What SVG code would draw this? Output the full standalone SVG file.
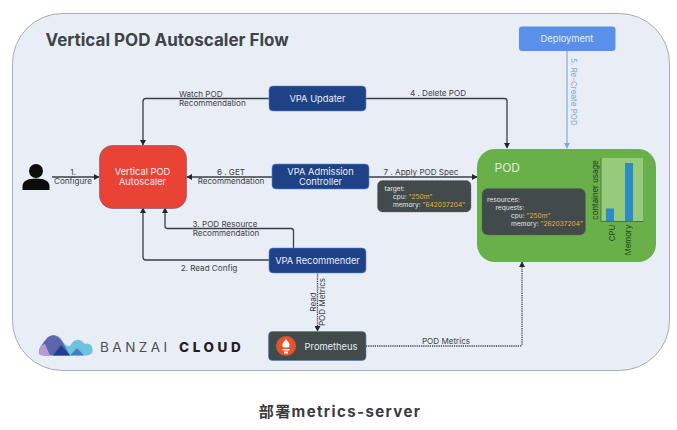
<svg xmlns="http://www.w3.org/2000/svg" width="677" height="430" viewBox="0 0 677 430">
<defs>
<style>
text{font-family:"Inter","Open Sans","Noto Sans CJK SC",sans-serif}
.n{font-size:9.3px;fill:#e8edf6;text-anchor:middle}
.l{font-size:8.1px;fill:#3c4144;text-anchor:middle}
.s{text-anchor:start}
.c{fill:none;stroke:#3a3f44;stroke-width:1.3}
.d{stroke-dasharray:1.2 1}
.k{font-size:6.6px;fill:#e6e8e8}
.y{fill:#e5b52a}
.box{fill:#1f4286;stroke:#5b8bd0;stroke-width:.6}
.dark{fill:#434a4c;stroke:#5d6365;stroke-width:.6;stroke-dasharray:1.5 1}
.ax{font-size:7.8px;fill:#21401f;text-anchor:middle}
</style>
<marker id="a" markerWidth="6" markerHeight="6" refX="5" refY="3" orient="auto" markerUnits="userSpaceOnUse"><path d="M0 0L5.500 3L0 6Z" fill="#23272b"/></marker>
<marker id="b" markerWidth="6" markerHeight="6" refX="5" refY="3" orient="auto" markerUnits="userSpaceOnUse"><path d="M0 0L5.500 3L0 6Z" fill="#7fa6d8"/></marker>
</defs>
<rect width="677" height="430" fill="#fff"/>
<rect x="12.500" y="13.500" width="657" height="357" rx="50" fill="#e9eef6" stroke="#a9abad"/>
<text x="45.500" y="46" font-size="17" font-weight="700" fill="#3f4448">Vertical POD Autoscaler Flow</text>

<g id="connectors">
<path class="c" marker-end="url(#a)" d="M269 98.500H146Q143 98.500 143 101.500V145"/>
<path class="c" marker-end="url(#a)" d="M366 98.500H504.500Q507 98.500 507 101V148"/>
<path class="c" marker-end="url(#a)" d="M272 177H187"/>
<path class="c" marker-end="url(#a)" d="M369 177H477"/>
<path class="c" marker-end="url(#a)" d="M52 177H99"/>
<path class="c" marker-end="url(#a)" d="M269 260H146Q143 260 143 257V208"/>
<path class="c" marker-end="url(#a)" d="M293.500 248V231Q293.500 228.500 291 228.500H167.500Q165 228.500 165 226V208"/>
<path class="c d" marker-end="url(#a)" d="M317.500 272V331"/>
<path class="c d" marker-end="url(#a)" d="M366 346H520Q522 346 522 344V262"/>
<path fill="none" stroke="#8ab0de" stroke-width="1.300" marker-end="url(#b)" d="M567 51V148"/>
<text class="l" x="73" y="175">1.</text>
<text class="l" x="73" y="183.500">Configure</text>
<text class="l s" x="179" y="97">Watch POD</text>
<text class="l s" x="179" y="105.500">Recommendation</text>
<text class="l" x="231" y="175">6 . GET</text>
<text class="l" x="231" y="183.500">Recommendation</text>
<text class="l" x="438" y="96">4 . Delete POD</text>
<text class="l" x="421" y="174.500">7 . Apply POD Spec</text>
<text class="l" x="225" y="227">3. POD Resource</text>
<text class="l" x="226" y="235.500">Recommendation</text>
<text class="l" x="209" y="271">2. Read Config</text>
<text class="l" x="446" y="343.500">POD Metrics</text>
<text class="l" transform="translate(316 302) rotate(-90)">Read</text>
<text class="l" transform="translate(325 302) rotate(-90)">POD Metrics</text>
<text class="l" transform="translate(571 92) rotate(90)" style="fill:#7fa6d8">5. Re-Create POD</text>
</g>

<g id="user"><circle cx="36" cy="171" r="7" fill="#0c0c0c"/><path d="M22.500 190V186Q23 178.500 36 178.500Q49 178.500 49.500 186V190Z" fill="#0c0c0c"/></g>
<g id="autoscaler"><rect x="99.500" y="145.500" width="87" height="63" rx="13" fill="#e84335" stroke="#7d5a8a" stroke-width=".7"/><text class="n" x="142.500" y="175">Vertical POD</text><text class="n" x="142.500" y="185">Autoscaler</text></g>
<g id="updater"><rect class="box" x="269" y="86" width="97" height="25" rx="4"/><text class="n" x="317.500" y="101.500">VPA Updater</text></g>
<g id="admission"><rect class="box" x="272" y="164" width="97" height="25" rx="4"/><text class="n" x="320.500" y="175">VPA Admission</text><text class="n" x="320.500" y="185">Controller</text></g>
<g id="recommender"><rect class="box" x="269" y="248" width="97" height="25" rx="4"/><text class="n" x="317.500" y="263.500">VPA Recommender</text></g>
<g id="deployment"><rect x="519" y="26.500" width="96.500" height="24.500" rx="3" fill="#5a90ea"/><text class="n" x="567" y="42">Deployment</text></g>
<g id="prometheus"><rect x="268.500" y="331.500" width="97.500" height="29" rx="4" fill="#434a4c" stroke="#4a7fc0" stroke-width=".6"/><circle cx="286" cy="346" r="10" fill="#e6522c"/><path d="M286 338.500c.5 2.500 3.500 3.500 3.500 6.500 0 1-.5 2-1 2.500h-5c-.5-.5-1-1.500-1-2.500 0-3 3-4 3.500-6.500ZM282.500 349h7v1.500h-7ZM284 351.500h4v2h-4Z" fill="#fff"/><text class="n" x="331" y="349.500">Prometheus</text></g>

<g id="target"><rect class="dark" x="377.500" y="180.500" width="93.500" height="31.500" rx="5"/>
<text class="k" x="384.500" y="190.500">target:</text><text class="k" x="393" y="198.500">cpu:  <tspan class="y">"250m"</tspan></text><text class="k" x="393" y="206.500">memory: <tspan class="y">"642037204"</tspan></text></g>

<g id="pod"><rect x="477" y="149" width="179" height="113" rx="18" fill="#6ab04a"/>
<text x="494.500" y="172" font-size="12" fill="#dfeedd">POD</text>
<rect class="dark" x="482" y="188.500" width="103.500" height="46.500" rx="6"/>
<text class="k" x="487" y="202">resources:</text><text class="k" x="495.500" y="210">requests:</text><text class="k" x="511" y="218">cpu:  <tspan class="y">"250m"</tspan></text><text class="k" x="511" y="225.500">memory: <tspan class="y">"262037204"</tspan></text>
<rect x="601" y="158" width="42" height="63" fill="#97ca7b"/>
<rect x="606" y="208.500" width="8" height="12.500" fill="#2d8bc8"/><rect x="625" y="163" width="8" height="58" fill="#2d8bc8"/>
<path d="M601 158V221.500H643.500" fill="none" stroke="#3d6a3a" stroke-width=".8"/>
<text class="ax" transform="translate(598 190) rotate(-90)">container usage</text><text class="ax" transform="translate(615 233) rotate(-90)">CPU</text><text class="ax" transform="translate(631 240) rotate(-90)">Memory</text></g>

<g id="logo"><path d="M39 354.500C40 348 46 346 49 338C52 333 60 335 63 342C67 347 70 347 72 343C76 338 81 339 85 344C89 342 93 346 92.500 350C93 354 90 355.500 85 355.500Z" fill="#6fc1df"/>
<path d="M39 351C40 346 44 342 47 338C52 333 58 335 62 341L70 355.500H45C41 355.500 39 354 39 351Z" fill="#5c65ae"/>
<path d="M53 355.500L61 345L70 355.500Z" fill="#1f3f88"/>
<path d="M70 355.500L77 348L84 355.500Z" fill="#3f7ec0"/>
<path d="M39 352Q39 345 45 344L50 355.500H44Q39 355.500 39 352Z" fill="#b79ad6"/>
<text x="100" y="351.500" font-size="13.500" letter-spacing="3.500" fill="#4a4e52">BANZAI</text>
<text x="179" y="351.500" font-size="13.500" font-weight="800" letter-spacing="3.600" fill="#1f2225">CLOUD</text></g>

<text x="340" y="417" font-size="15" font-weight="700" text-anchor="middle" letter-spacing="1.400" fill="#3a3a3a">部署metrics-server</text>
</svg>
